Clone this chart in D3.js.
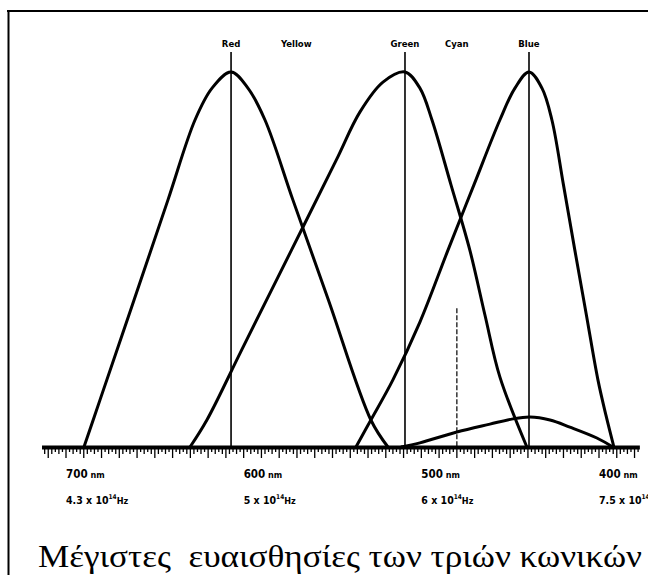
<!DOCTYPE html>
<html>
<head>
<meta charset="utf-8">
<script src="https://cdn.jsdelivr.net/npm/d3@7"></script>
<style>
html,body{margin:0;padding:0;background:#fff;}
svg{display:block;}
</style>
</head>
<body>
<svg id="chart" width="648" height="575"></svg>
<script>
// ---- data ----
const coneNames = ["Red", "Yellow", "Green", "Cyan", "Blue"];
const coneLabelWl = [607.1, 570.4, 509.2, 480.0, 439.4];

const tickWavelengths = [700, 600, 500, 400];
const tickFreqMantissa = ["4.3", "5", "6", "7.5"];

const redWl = [689.9, 680.9, 661.7, 642.6, 627.4, 617.8, 607.1, 597.6, 588.0, 572.3, 552.3, 528.4, 518.8];
const redS  = [0, 0.125, 0.392, 0.659, 0.872, 0.957, 1, 0.957, 0.872, 0.659, 0.392, 0.072, 0];

const greenWl = [630.2, 620.7, 601.1, 573.1, 547.9, 534.6, 521.6, 509.2, 500.8, 494.0, 483.3, 472.7, 464.2, 455.8, 440.6];
const greenS  = [0, 0.072, 0.259, 0.525, 0.765, 0.893, 0.973, 1, 0.957, 0.872, 0.699, 0.525, 0.352, 0.187, 0];

const blueWl = [536.8, 528.4, 516.0, 500.8, 485.0, 470.4, 455.8, 447.3, 439.4, 432.1, 426.5, 420.0, 413.6, 407.1, 400.6, 396.1, 391.6];
const blueS  = [0, 0.072, 0.179, 0.333, 0.525, 0.699, 0.872, 0.957, 1, 0.957, 0.872, 0.699, 0.525, 0.352, 0.179, 0.085, 0];

const bumpWl = [511.5, 500.8, 480.0, 461.4, 448.5, 438.9, 427.6, 416.4, 401.2, 392.2];
const bumpS  = [0, 0.011, 0.040, 0.061, 0.075, 0.080, 0.072, 0.053, 0.024, 0];

const peakLineWl = [607.1, 509.2, 439.4];
const cyanLineWl = [480.0];
const cyanLineTop = [0.37];

const caption = "Μέγιστες  ευαισθησίες των τριών κωνικών";

// ---- drawing ----
const svg = d3.select("#chart");
const x = d3.scaleLinear().domain([700, 400]).range([66, 599]);
const y = d3.scaleLinear().domain([0, 1]).range([447, 72]);
const axisMin = 377, axisMax = 713.5;

// frame
svg.append("line").attr("x1", 7).attr("x2", 648).attr("y1", 11).attr("y2", 11)
  .attr("stroke", "#000").attr("stroke-width", 2);
svg.append("line").attr("x1", 8.5).attr("x2", 8.5).attr("y1", 10).attr("y2", 575)
  .attr("stroke", "#000").attr("stroke-width", 2);

// peak vertical lines
svg.selectAll("line.peak").data(peakLineWl).enter().append("line")
  .attr("class", "peak")
  .attr("x1", d => x(d)).attr("x2", d => x(d))
  .attr("y1", 52).attr("y2", y(0))
  .attr("stroke", "#000").attr("stroke-width", 1.6);

// cyan dashed line
svg.selectAll("line.cyan").data(cyanLineWl).enter().append("line")
  .attr("class", "cyan")
  .attr("x1", d => x(d)).attr("x2", d => x(d))
  .attr("y1", (d, i) => y(cyanLineTop[i])).attr("y2", y(0))
  .attr("stroke", "#000").attr("stroke-width", 1.2)
  .attr("stroke-dasharray", "5,2");

// top labels
svg.selectAll("text.cone").data(coneNames).enter().append("text")
  .attr("class", "cone")
  .attr("x", (d, i) => x(coneLabelWl[i]))
  .attr("y", 47)
  .attr("text-anchor", "middle")
  .attr("font-family", "'Liberation Sans Narrow', 'DejaVu Sans Condensed', sans-serif")
  .attr("font-weight", "bold")
  .attr("font-size", 9.5)
  .text(d => d);

// curves
const line = d3.line().x(d => x(d[0])).y(d => y(d[1])).curve(d3.curveCatmullRom.alpha(0.5));
const series = [
  [redWl, redS], [greenWl, greenS], [blueWl, blueS], [bumpWl, bumpS]
];
svg.selectAll("path.curve").data(series).enter().append("path")
  .attr("class", "curve")
  .attr("d", d => line(d[0].map((w, i) => [w, d[1][i]])))
  .attr("fill", "none")
  .attr("stroke", "#000")
  .attr("stroke-width", 3)
  .attr("stroke-linejoin", "round");

// axis bar
svg.append("line")
  .attr("x1", x(axisMax)).attr("x2", x(axisMin))
  .attr("y1", y(0) + 0.5).attr("y2", y(0) + 0.5)
  .attr("stroke", "#000").attr("stroke-width", 4);

// minor ticks
const minor = d3.range(378, 714, 2);
svg.selectAll("line.tick").data(minor).enter().append("line")
  .attr("class", "tick")
  .attr("x1", d => x(d)).attr("x2", d => x(d))
  .attr("y1", y(0)).attr("y2", d => y(0) + (d % 10 === 0 ? 11 : (d % 4 === 0 ? 7 : 5)))
  .attr("stroke", "#000").attr("stroke-width", 1.3);

// tick labels
const tl = svg.selectAll("g.tl").data(tickWavelengths).enter().append("g")
  .attr("class", "tl")
  .attr("transform", d => `translate(${x(d)},0)`)
  .attr("font-family", "'Liberation Sans Narrow', 'DejaVu Sans Condensed', sans-serif")
  .attr("font-weight", "bold");
const t1 = tl.append("text").attr("y", 478).attr("font-size", 11.5);
t1.append("tspan").text(d => d);
t1.append("tspan").attr("font-size", 9).text(" nm");
const t2 = tl.append("text").attr("y", 504).attr("font-size", 10.5);
t2.append("tspan").text((d, i) => tickFreqMantissa[i] + " x 10");
t2.append("tspan").attr("font-size", 6.5).attr("dy", -5).text("14");
t2.append("tspan").attr("dy", 5).attr("font-size", 9).text("Hz");

// caption
svg.append("text")
  .attr("x", 38).attr("y", 567)
  .attr("font-family", "'Liberation Serif', 'DejaVu Serif', serif")
  .attr("font-size", 31)
  .attr("textLength", 604)
  .attr("lengthAdjust", "spacingAndGlyphs")
  .style("white-space", "pre")
  .text(caption);
</script>
</body>
</html>
